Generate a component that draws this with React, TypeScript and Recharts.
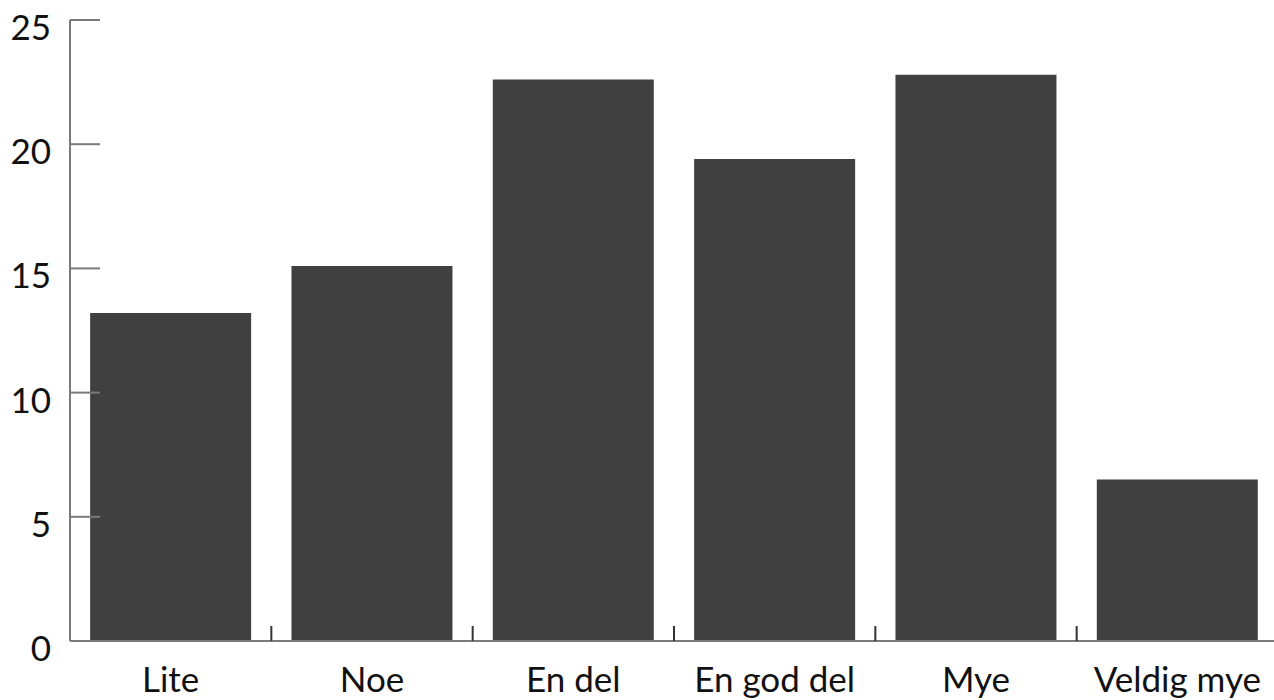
import { Bar, BarChart, XAxis, YAxis } from "recharts";

const categories = ["Lite", "Noe", "En del", "En god del", "Mye", "Veldig mye"];
const values = [13.2, 15.1, 22.6, 19.4, 22.8, 6.5];
const yTicks = [0, 5, 10, 15, 20, 25];

const data = categories.map((name, i) => ({ name, value: values[i] }));

const FONT = "Lato, 'Open Sans', sans-serif";

function YTick(props: any) {
  const { x, y, payload } = props;
  return (
    <g>
      <line x1={x} x2={x + 30} y1={y} y2={y} stroke="#7a7a7a" strokeWidth={2} />
      <text x={x - 19} y={y + 20} textAnchor="end" fontSize={35} fontFamily={FONT} fill="#111">
        {payload.value}
      </text>
    </g>
  );
}

function XTick(props: any) {
  const { x, y, payload, index, visibleTicksCount } = props;
  const half = payload.offset ?? 0;
  const showLine = index < visibleTicksCount - 1;
  return (
    <g>
      {showLine && (
        <line x1={x + half} x2={x + half} y1={y} y2={y - 15} stroke="#333" strokeWidth={2} />
      )}
      <text x={x} y={y + 51} textAnchor="middle" fontSize={35} fontFamily={FONT} fill="#111">
        {payload.value}
      </text>
    </g>
  );
}

export default function App() {
  return (
    <div style={{ position: "absolute", left: 0, top: 0, width: 1274, height: 700, overflow: "hidden", background: "#fff" }}>
      <BarChart
        width={1280}
        height={700}
        data={data}
        margin={{ top: 20, right: 2, left: 0, bottom: 0 }}
        barCategoryGap="10%"
      >
        <XAxis
          dataKey="name"
          height={59}
          tickLine={false}
          tickSize={0}
          tickMargin={0}
          axisLine={{ stroke: "#7a7a7a", strokeWidth: 2 }}
          tick={<XTick />}
          interval={0}
        />
        <YAxis
          width={70}
          domain={[0, 25]}
          ticks={yTicks}
          tickLine={false}
          tickSize={0}
          tickMargin={0}
          axisLine={{ stroke: "#7a7a7a", strokeWidth: 2 }}
          tick={<YTick />}
          interval={0}
        />
        <Bar dataKey="value" fill="#404040" isAnimationActive={false} />
      </BarChart>
    </div>
  );
}
